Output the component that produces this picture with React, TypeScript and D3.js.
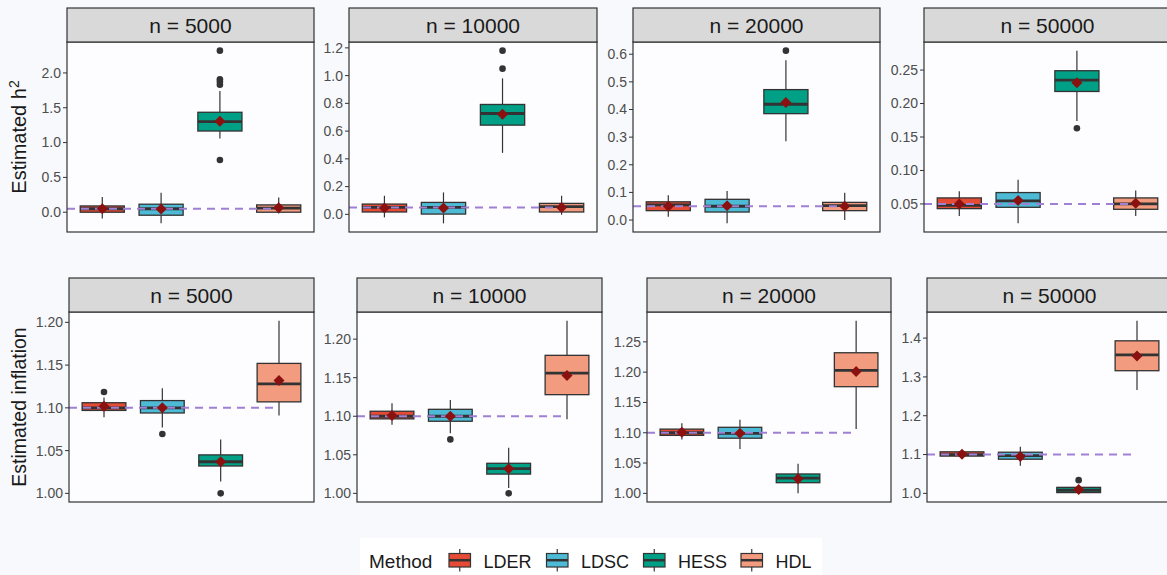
import React from "react";
import * as d3 from "d3";

const methods = ["LDER", "LDSC", "HESS", "HDL"];
const sampleSizes = [5000, 10000, 20000, 50000];
const methodColors = ["#E64B35", "#4DBBD5", "#00A087", "#F39B7F"];

// box stats: [lower whisker, Q1, median, Q3, upper whisker], rows = n, cols = method
const h2Boxes = [
  [[-0.09, 0.0, 0.05, 0.09, 0.22], [-0.16, -0.043, 0.05, 0.115, 0.28], [1.06, 1.166, 1.3, 1.435, 1.74], [-0.02, 0.0, 0.06, 0.105, 0.21]],
  [[-0.022, 0.017, 0.05, 0.074, 0.134], [-0.065, 0.002, 0.05, 0.086, 0.158], [0.443, 0.643, 0.727, 0.792, 0.98], [-0.003, 0.017, 0.055, 0.079, 0.134]],
  [[0.012, 0.034, 0.055, 0.066, 0.09], [-0.012, 0.029, 0.05, 0.075, 0.105], [0.285, 0.385, 0.419, 0.472, 0.578], [0.0, 0.034, 0.052, 0.064, 0.099]],
  [[0.032, 0.043, 0.048, 0.059, 0.069], [0.021, 0.045, 0.0545, 0.067, 0.086], [0.174, 0.218, 0.235, 0.249, 0.279], [0.032, 0.042, 0.05, 0.059, 0.07]],
];
const h2Means = [
  [0.05, 0.045, 1.305, 0.065],
  [0.045, 0.045, 0.722, 0.05],
  [0.05, 0.052, 0.425, 0.05],
  [0.05, 0.055, 0.231, 0.051],
];
const h2Outliers = [
  [[], [], [2.32, 1.91, 1.875, 1.83, 0.75], []],
  [[], [], [1.18, 1.05], []],
  [[], [], [0.613], []],
  [[], [], [0.163], []],
];
const h2Ticks = [
  [0, 0.5, 1.0, 1.5, 2.0],
  [0, 0.2, 0.4, 0.6, 0.8, 1.0, 1.2],
  [0, 0.1, 0.2, 0.3, 0.4, 0.5, 0.6],
  [0.05, 0.1, 0.15, 0.2, 0.25],
];
const h2TickFormats = [".1f", ".1f", ".1f", ".2f"];
const h2True = 0.05;

const inflBoxes = [
  [[1.089, 1.097, 1.1, 1.106, 1.112], [1.077, 1.094, 1.1, 1.1085, 1.123], [1.014, 1.032, 1.037, 1.045, 1.063], [1.091, 1.107, 1.128, 1.152, 1.202]],
  [[1.089, 1.0966, 1.1, 1.1065, 1.117], [1.078, 1.0935, 1.1, 1.109, 1.121], [1.007, 1.025, 1.032, 1.039, 1.059], [1.096, 1.128, 1.156, 1.179, 1.224]],
  [[1.089, 1.0957, 1.1, 1.106, 1.1155], [1.073, 1.091, 1.099, 1.109, 1.1213], [1.0, 1.0176, 1.025, 1.032, 1.049], [1.106, 1.176, 1.203, 1.232, 1.285]],
  [[1.092, 1.096, 1.1, 1.107, 1.109], [1.071, 1.088, 1.097, 1.106, 1.12], [1.0, 1.002, 1.008, 1.0155, 1.02], [1.266, 1.316, 1.357, 1.393, 1.445]],
];
const inflMeans = [
  [1.102, 1.1, 1.037, 1.132],
  [1.101, 1.1, 1.032, 1.153],
  [1.101, 1.099, 1.024, 1.201],
  [1.101, 1.095, 1.01, 1.354],
];
const inflOutliers = [
  [[1.1186], [1.0695], [1.0], []],
  [[], [1.07], [1.0], []],
  [[], [], [], []],
  [[], [], [1.034], []],
];
const inflTicks = [
  [1.0, 1.05, 1.1, 1.15, 1.2],
  [1.0, 1.05, 1.1, 1.15, 1.2],
  [1.0, 1.05, 1.1, 1.15, 1.2, 1.25],
  [1.0, 1.1, 1.2, 1.3, 1.4],
];
const inflTickFormats = [".2f", ".2f", ".2f", ".1f"];
const inflTrue = 1.1;

const W = 1167;
const H = 575;
const FONT = "Liberation Sans, Arial, sans-serif";
const DARK = "#333333";

// panel x extents for each row
const topX = [[67, 314], [349, 597], [633, 880], [924, 1171]];
const botX = [[69, 314], [357, 602], [647, 891], [927, 1172]];

type PanelProps = {
  x0: number; x1: number; yStrip: number; yTop: number; yBot: number;
  label: string; boxes: number[][]; means: number[]; outliers: number[][];
  ticks: number[]; fmt: string; refValue: number;
};

const Panel = ({ x0, x1, yStrip, yTop, yBot, label, boxes, means, outliers, ticks, fmt, refValue }: PanelProps) => {
  const all = boxes.flat().concat(outliers.flat());
  const lo = d3.min(all) as number;
  const hi = d3.max(all) as number;
  const pad = (hi - lo) * 0.05;
  const y = d3.scaleLinear().domain([lo - pad, hi + pad]).range([yBot, yTop]);
  const x = d3.scalePoint<string>().domain(methods).range([x0, x1]).padding(0.6);
  const bw = x.step() * 0.75;
  const f = d3.format(fmt);

  return (
    <g>
      <rect x={x0} y={yTop} width={x1 - x0} height={yBot - yTop} fill="#fdfdff" />
      {ticks.map((t) => (
        <g key={t}>
          <line x1={x0 - 4} x2={x0} y1={y(t)} y2={y(t)} stroke={DARK} strokeWidth={1} />
          <text x={x0 - 6} y={y(t)} dy="0.35em" textAnchor="end" fontSize={14} fill="#4d4d4d" fontFamily={FONT}>
            {f(t)}
          </text>
        </g>
      ))}
      {boxes.map((b, i) => {
        const cx = x(methods[i]) as number;
        return (
          <g key={methods[i]}>
            <line x1={cx} x2={cx} y1={y(b[0])} y2={y(b[1])} stroke={DARK} strokeWidth={1.2} />
            <line x1={cx} x2={cx} y1={y(b[3])} y2={y(b[4])} stroke={DARK} strokeWidth={1.2} />
            <rect x={cx - bw / 2} y={y(b[3])} width={bw} height={Math.max(0.5, y(b[1]) - y(b[3]))}
              fill={methodColors[i]} stroke={DARK} strokeWidth={1.3} />
            <line x1={cx - bw / 2} x2={cx + bw / 2} y1={y(b[2])} y2={y(b[2])} stroke={DARK} strokeWidth={2.8} />
            {outliers[i].map((o, j) => (
              <circle key={j} cx={cx} cy={y(o)} r={3.3} fill={DARK} />
            ))}
          </g>
        );
      })}
      <line x1={x0} x2={x(methods[3]) as number} y1={y(refValue)} y2={y(refValue)}
        stroke="#9f80d4" strokeWidth={2} strokeDasharray="8,6" />
      {means.map((m, i) => {
        const cx = x(methods[i]) as number;
        const cy = y(m);
        const s = 5.5;
        return (
          <path key={i} d={`M${cx},${cy - s}L${cx + s},${cy}L${cx},${cy + s}L${cx - s},${cy}Z`} fill="#8B1010" />
        );
      })}
      <rect x={x0} y={yTop} width={x1 - x0} height={yBot - yTop} fill="none" stroke={DARK} strokeWidth={1.2} />
      <rect x={x0} y={yStrip} width={x1 - x0} height={yTop - yStrip} fill="#d9d9d9" stroke={DARK} strokeWidth={1.2} />
      <text x={(x0 + x1) / 2} y={(yStrip + yTop) / 2} dy="0.36em" textAnchor="middle" fontSize={21}
        fill="#1a1a1a" fontFamily={FONT}>
        {label}
      </text>
    </g>
  );
};

const App = () => {
  const legendKeyX = [449, 546.5, 643.5, 741];
  return (
    <svg width={W} height={H} style={{ position: "absolute", left: 0, top: 0, display: "block" }}>
      <rect x={0} y={0} width={W} height={H} fill="#f8f9fc" />
      {sampleSizes.map((n, k) => (
        <Panel key={"t" + n} x0={topX[k][0]} x1={topX[k][1]} yStrip={8} yTop={42} yBot={232}
          label={`n = ${n}`} boxes={h2Boxes[k]} means={h2Means[k]} outliers={h2Outliers[k]}
          ticks={h2Ticks[k]} fmt={h2TickFormats[k]} refValue={h2True} />
      ))}
      {sampleSizes.map((n, k) => (
        <Panel key={"b" + n} x0={botX[k][0]} x1={botX[k][1]} yStrip={278} yTop={312} yBot={502}
          label={`n = ${n}`} boxes={inflBoxes[k]} means={inflMeans[k]} outliers={inflOutliers[k]}
          ticks={inflTicks[k]} fmt={inflTickFormats[k]} refValue={inflTrue} />
      ))}
      <text transform="translate(26,137) rotate(-90)" textAnchor="middle" fontSize={20} fill="#1a1a1a" fontFamily={FONT}>
        Estimated h<tspan dy="-7" fontSize={14}>2</tspan>
      </text>
      <text transform="translate(26,407) rotate(-90)" textAnchor="middle" fontSize={19.5} fill="#1a1a1a" fontFamily={FONT}>
        Estimated inflation
      </text>
      <rect x={360} y={538} width={462} height={37} fill="#ffffff" />
      <text x={369} y={567.5} fontSize={19} fill="#1a1a1a" fontFamily={FONT}>Method</text>
      {methods.map((m, i) => {
        const kx = legendKeyX[i];
        const kw = 21.5;
        const cx = kx + kw / 2;
        return (
          <g key={m}>
            <line x1={cx} x2={cx} y1={549} y2={571.5} stroke={DARK} strokeWidth={1.2} />
            <rect x={kx} y={553.5} width={kw} height={13.5} fill={methodColors[i]} stroke={DARK} strokeWidth={1.2} />
            <line x1={kx} x2={kx + kw} y1={560.2} y2={560.2} stroke={DARK} strokeWidth={2.5} />
            <text x={kx + 34.5} y={567.5} fontSize={18} fill="#1a1a1a" fontFamily={FONT}>{m}</text>
          </g>
        );
      })}
    </svg>
  );
};

export default App;
